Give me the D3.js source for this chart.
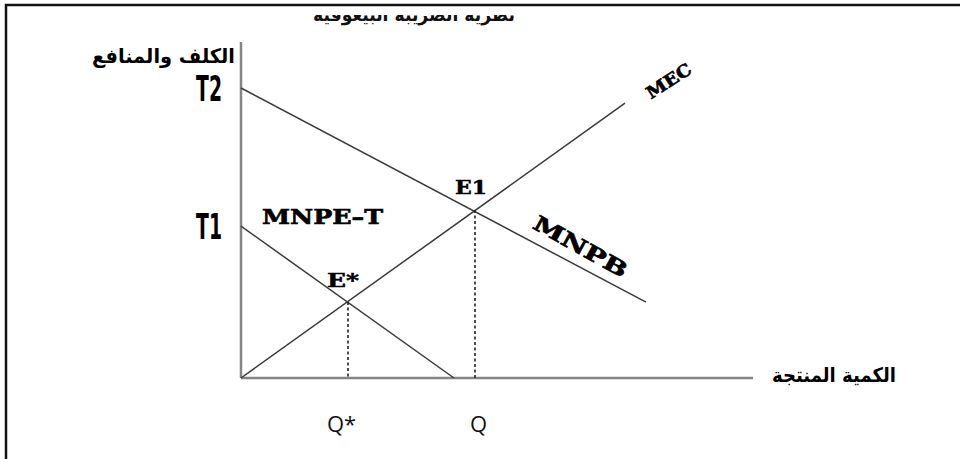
<!DOCTYPE html>
<html>
<head>
<meta charset="utf-8">
<script src="https://cdn.jsdelivr.net/npm/d3@7"></script>
<style>
  html, body { margin: 0; padding: 0; background: #fff; }
  svg { display: block; }
</style>
</head>
<body>
<svg id="chart" width="960" height="459"></svg>
<script>
// Quantity / cost-benefit model (abstract units 0..100 on each axis)
const curveNames = ["MNPB", "MEC", "MNPE-T"];
const curveStart = [[0, 86.3], [0, 0], [0, 45.2]];
const curveEnd   = [[79.1, 22.6], [75, 81.8], [41.6, 0]];

const equilibriumNames = ["E*", "E1"];
const equilibriumQ     = [20.9, 45.7];
const equilibriumP     = [22.6, 50.0];
const quantityLabels   = ["Q*", "Q"];

const yTickValues = [86.3, 45.2];
const yTickLabels = ["T2", "T1"];

const yTitle = "الكلف والمنافع";
const xTitle = "الكمية المنتجة";
const heading = "نظرية الضريبة البيغوفية";

const svg = d3.select("#chart");

const x = d3.scaleLinear().domain([0, 100]).range([241, 753]);
const y = d3.scaleLinear().domain([0, 100]).range([378, 42]);

// outer frame (top and left edges)
svg.append("path")
  .attr("d", "M6,459 L6,5 L960,5")
  .attr("fill", "none").attr("stroke", "#111").attr("stroke-width", 2.5);

// heading, only its lower part shows below the frame
const clip = svg.append("defs").append("clipPath").attr("id", "headClip");
clip.append("rect").attr("x", 0).attr("y", 15).attr("width", 960).attr("height", 30);
svg.append("text")
  .attr("clip-path", "url(#headClip)")
  .attr("x", 515).attr("y", 20.5)
  .attr("text-anchor", "end")
  .attr("font-family", "DejaVu Sans")
  .attr("font-weight", "bold")
  .attr("font-size", 19)
  .attr("textLength", 202).attr("lengthAdjust", "spacingAndGlyphs")
  .attr("fill", "#111")
  .text(heading);

// axes
const axisG = svg.append("g").attr("stroke", "#858585").attr("stroke-width", 2.5);
axisG.append("line").attr("x1", x(0)).attr("x2", x(0)).attr("y1", y(100)).attr("y2", y(0));
axisG.append("line").attr("x1", x(0)).attr("x2", x(100)).attr("y1", y(0)).attr("y2", y(0));

// curves
svg.append("g").selectAll("line").data(curveNames).join("line")
  .attr("x1", (d, i) => x(curveStart[i][0]))
  .attr("y1", (d, i) => y(curveStart[i][1]))
  .attr("x2", (d, i) => x(curveEnd[i][0]))
  .attr("y2", (d, i) => y(curveEnd[i][1]))
  .attr("stroke", "#3a3a3a").attr("stroke-width", 1.5);

// dotted drop lines from the equilibria
svg.append("g").selectAll("line").data(equilibriumNames).join("line")
  .attr("x1", (d, i) => x(equilibriumQ[i]))
  .attr("x2", (d, i) => x(equilibriumQ[i]))
  .attr("y1", (d, i) => y(equilibriumP[i]))
  .attr("y2", y(0))
  .attr("stroke", "#222").attr("stroke-width", 1.6)
  .attr("stroke-dasharray", "3,2.5");

const serifBold = "'DejaVu Serif', 'Liberation Serif', serif";

// y tick labels T2 / T1 (tall condensed)
svg.append("g").selectAll("text").data(yTickLabels).join("text")
  .attr("transform", (d, i) => `translate(222,${y(yTickValues[i]) + 13}) scale(0.58,1)`)
  .attr("text-anchor", "end")
  .attr("font-family", "'Liberation Sans Narrow', 'DejaVu Sans Condensed', sans-serif")
  .attr("font-weight", "bold")
  .attr("font-size", 36)
  .attr("fill", "#000")
  .text(d => d);

// axis titles
svg.append("text")
  .attr("x", 235).attr("y", 63)
  .attr("text-anchor", "end")
  .attr("font-family", "DejaVu Sans").attr("font-weight", "bold")
  .attr("font-size", 20)
  .attr("textLength", 143).attr("lengthAdjust", "spacingAndGlyphs")
  .attr("fill", "#000")
  .text(yTitle);

svg.append("text")
  .attr("x", 896).attr("y", 382)
  .attr("text-anchor", "end")
  .attr("font-family", "DejaVu Sans").attr("font-weight", "bold")
  .attr("font-size", 20)
  .attr("textLength", 124).attr("lengthAdjust", "spacingAndGlyphs")
  .attr("fill", "#000")
  .text(xTitle);

// curve labels
svg.append("text")
  .attr("transform", "translate(672,86) rotate(-33)")
  .attr("text-anchor", "middle")
  .attr("font-family", serifBold).attr("font-weight", "bold")
  .attr("font-size", 17)
  .attr("textLength", 50).attr("lengthAdjust", "spacingAndGlyphs")
  .attr("stroke", "#000").attr("stroke-width", 0.6)
  .text(curveNames[1]);

svg.append("text")
  .attr("transform", "translate(577,253) rotate(29)")
  .attr("text-anchor", "middle")
  .attr("font-family", serifBold).attr("font-weight", "bold")
  .attr("font-size", 21)
  .attr("textLength", 104).attr("lengthAdjust", "spacingAndGlyphs")
  .attr("stroke", "#000").attr("stroke-width", 0.7)
  .text(curveNames[0]);

svg.append("text")
  .attr("x", 262).attr("y", 224)
  .attr("font-family", serifBold).attr("font-weight", "bold")
  .attr("font-size", 20)
  .attr("textLength", 121).attr("lengthAdjust", "spacingAndGlyphs")
  .attr("stroke", "#000").attr("stroke-width", 0.6)
  .text("MNPE–T");

// equilibrium labels
const eOffsets = [[-21, -15], [-20, -16]];
svg.append("g").selectAll("text").data(equilibriumNames).join("text")
  .attr("x", (d, i) => x(equilibriumQ[i]) + eOffsets[i][0])
  .attr("y", (d, i) => y(equilibriumP[i]) + eOffsets[i][1])
  .attr("font-family", serifBold).attr("font-weight", "bold")
  .attr("font-size", 19)
  .attr("textLength", 32)
  .attr("lengthAdjust", "spacingAndGlyphs")
  .attr("stroke", "#000").attr("stroke-width", 0.5)
  .text(d => d);

// quantity labels under the axis
svg.append("g").selectAll("text").data(quantityLabels).join("text")
  .attr("x", (d, i) => x(equilibriumQ[i]) + (i === 0 ? -21 : -5))
  .attr("y", 432)
  .attr("font-family", "'Open Sans', 'Liberation Sans', sans-serif")
  .attr("font-size", 22)
  .attr("fill", "#111")
  .text(d => d);
</script>
</body>
</html>
